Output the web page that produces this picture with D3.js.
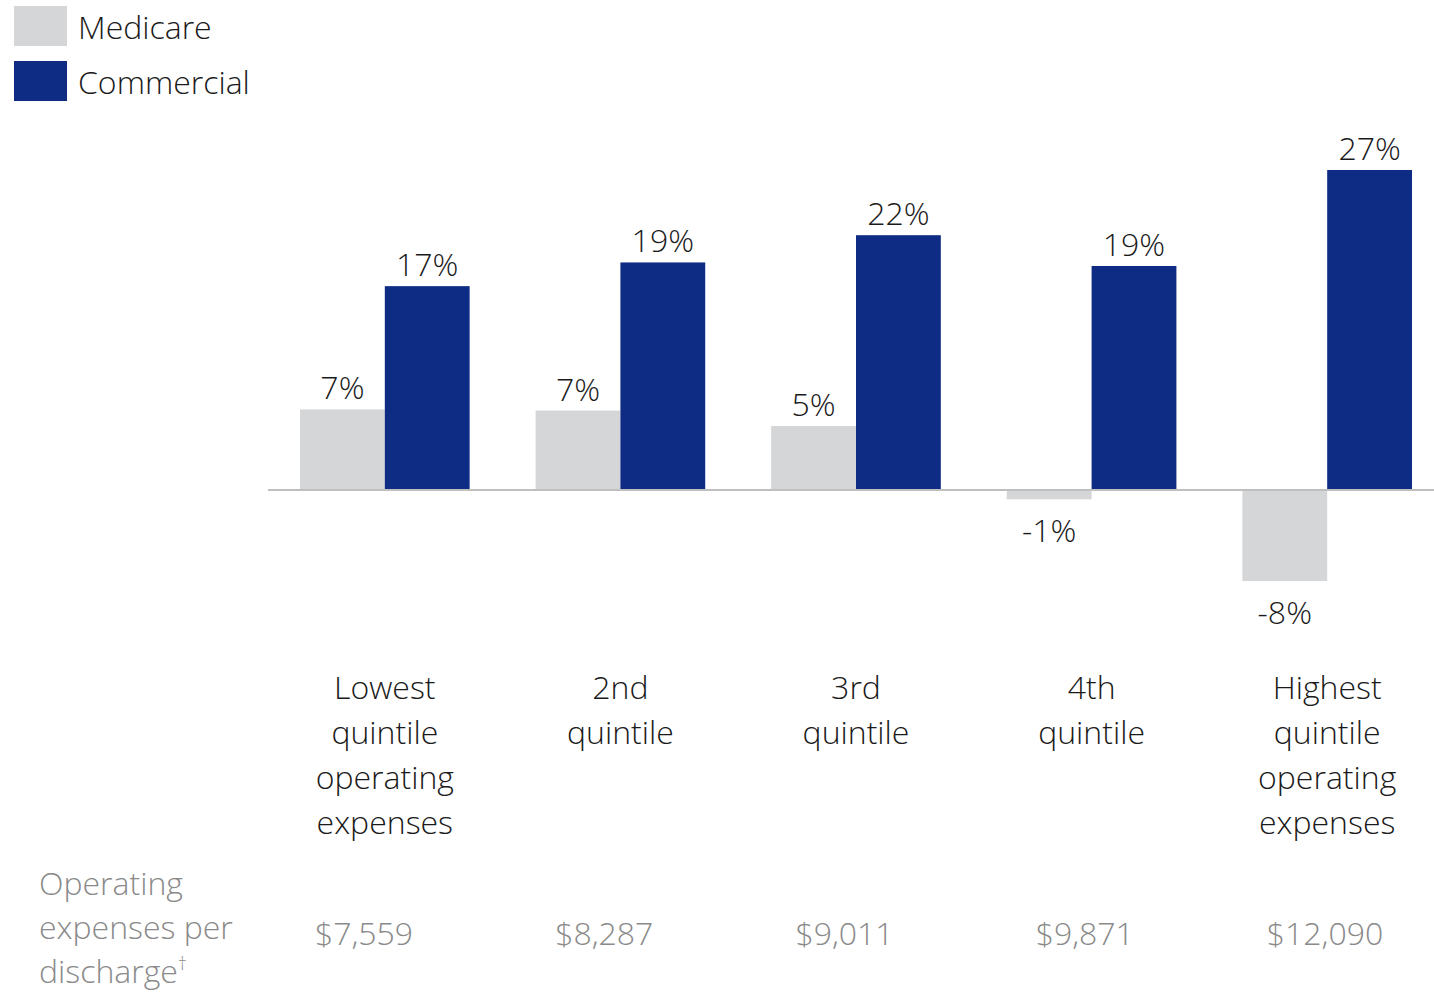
<!DOCTYPE html>
<html>
<head>
<meta charset="utf-8">
<script src="https://cdn.jsdelivr.net/npm/d3@7"></script>
<style>
  body { margin: 0; background: #fff; }
  svg text { font-family: "Open Sans", "Segoe UI", sans-serif; font-weight: 300; }
</style>
</head>
<body>
<div id="chart"></div>
<script>
// data
var categories = ["Lowest", "2nd", "3rd", "4th", "Highest"];
var categoryLines = [
  ["Lowest", "quintile", "operating", "expenses"],
  ["2nd", "quintile"],
  ["3rd", "quintile"],
  ["4th", "quintile"],
  ["Highest", "quintile", "operating", "expenses"]
];
var seriesNames = ["Medicare", "Commercial"];
var medicare = [6.8, 6.7, 5.4, -0.7, -7.6];
var commercial = [17.2, 19.2, 21.5, 18.9, 27.0];
var costLabels = ["$7,559", "$8,287", "$9,011", "$9,871", "$12,090"];
var costTitle = ["Operating", "expenses per", "discharge"];

var colors = { Medicare: "#d5d6d8", Commercial: "#0e2c84" };
var fs = 32;

var W = 1434, H = 992;
var svg = d3.select("#chart").append("svg")
  .attr("width", W)
  .attr("height", H);

var rows = categories.map(function(c, i) {
  return { cat: c, Medicare: medicare[i], Commercial: commercial[i] };
});

// scales
var x0 = d3.scaleBand()
  .domain(categories)
  .range([300, 1412])
  .paddingInner(0.28)
  .paddingOuter(0);
var x1 = d3.scaleBand()
  .domain(seriesNames)
  .range([0, x0.bandwidth()]);
var y = d3.scaleLinear()
  .domain([0, 27])
  .range([490, 170]);

// zero line
svg.append("line")
  .attr("x1", 268).attr("x2", W)
  .attr("y1", y(0)).attr("y2", y(0))
  .attr("stroke", "#bfbfbf")
  .attr("stroke-width", 2);

var groups = svg.append("g").selectAll("g")
  .data(rows)
  .enter().append("g")
  .attr("transform", function(d) { return "translate(" + x0(d.cat) + ",0)"; });

var bars = groups.selectAll("g")
  .data(function(d) { return seriesNames.map(function(s) { return { s: s, v: d[s] }; }); })
  .enter().append("g");

bars.append("rect")
  .attr("x", function(d) { return x1(d.s); })
  .attr("width", x1.bandwidth())
  .attr("y", function(d) { return d.v >= 0 ? y(d.v) : y(0) + 1; })
  .attr("height", function(d) { return Math.abs(y(d.v) - y(0)) - (d.v >= 0 ? 1 : 0); })
  .attr("fill", function(d) { return colors[d.s]; });

bars.append("text")
  .attr("x", function(d) { return x1(d.s) + x1.bandwidth() / 2; })
  .attr("y", function(d) { return d.v >= 0 ? y(d.v) - 10 : y(d.v) + 44; })
  .attr("text-anchor", "middle")
  .attr("font-size", fs)
  .attr("fill", "#1a1a1a")
  .text(function(d) { return Math.round(d.v) + "%"; });

// category labels
var catG = svg.append("g").selectAll("text")
  .data(categories)
  .enter().append("text")
  .attr("text-anchor", "middle")
  .attr("font-size", fs)
  .attr("fill", "#1a1a1a")
  .attr("x", function(d) { return x0(d) + x0.bandwidth() / 2; })
  .attr("y", 699);
catG.selectAll("tspan")
  .data(function(d, i) { return categoryLines[i]; })
  .enter().append("tspan")
  .attr("x", function() { return this.parentNode.getAttribute("x"); })
  .attr("dy", function(d, i) { return i === 0 ? 0 : 45; })
  .text(function(d) { return d; });

// cost per discharge row
var xc = d3.scalePoint()
  .domain(categories)
  .range([364, 1325]);
svg.append("g").selectAll("text")
  .data(costLabels)
  .enter().append("text")
  .attr("x", function(d, i) { return xc(categories[i]); })
  .attr("y", 945)
  .attr("text-anchor", "middle")
  .attr("font-size", fs)
  .attr("fill", "#8a8a8a")
  .text(function(d) { return d; });

var ct = svg.append("text")
  .attr("x", 39)
  .attr("y", 895)
  .attr("font-size", fs)
  .attr("fill", "#8a8a8a");
ct.selectAll("tspan")
  .data(costTitle)
  .enter().append("tspan")
  .attr("x", 39)
  .attr("dy", function(d, i) { return i === 0 ? 0 : 44; })
  .text(function(d) { return d; });
ct.append("tspan")
  .attr("dy", -13)
  .attr("font-size", 18)
  .text("\u2020");

// legend
var legend = svg.append("g").selectAll("g")
  .data(seriesNames)
  .enter().append("g")
  .attr("transform", function(d, i) { return "translate(14," + (6 + i * 55) + ")"; });
legend.append("rect")
  .attr("width", 53)
  .attr("height", 40)
  .attr("fill", function(d) { return colors[d]; });
legend.append("text")
  .attr("x", 64)
  .attr("y", 33)
  .attr("font-size", fs)
  .attr("fill", "#1a1a1a")
  .text(function(d) { return d; });
</script>
</body>
</html>
